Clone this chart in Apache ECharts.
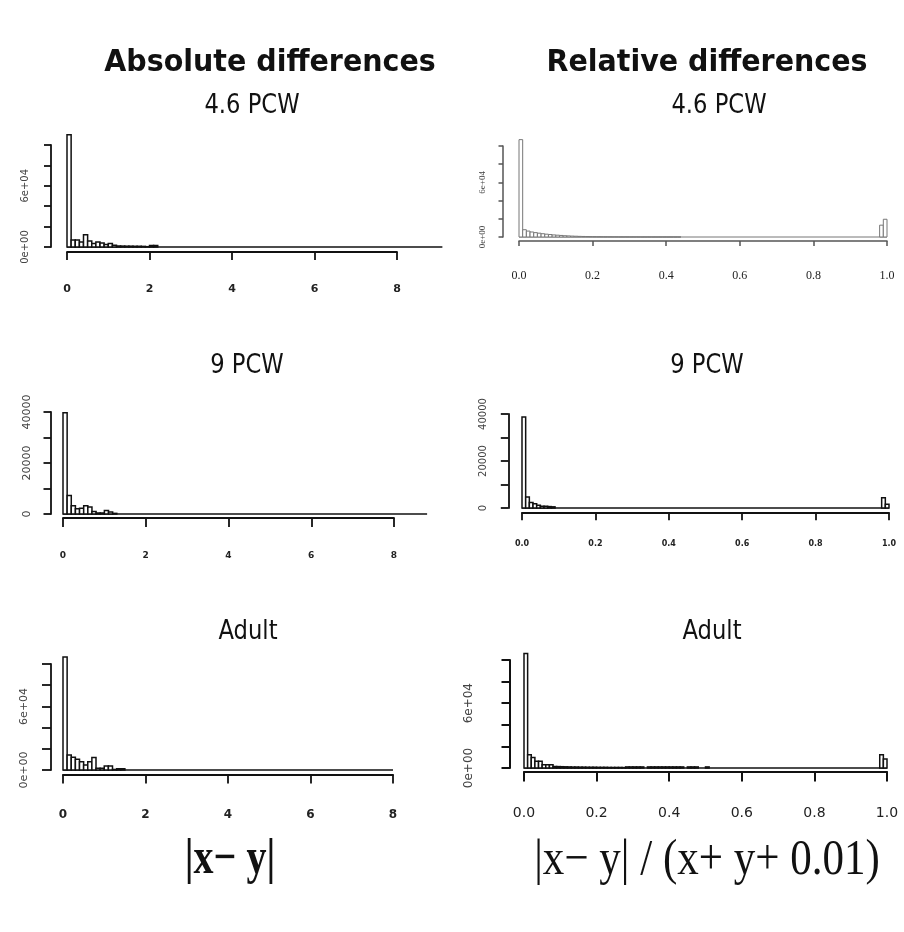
<!DOCTYPE html>
<html><head><meta charset="utf-8">
<script src="https://cdn.jsdelivr.net/npm/echarts@6/dist/echarts.min.js"></script>
<style>html,body{margin:0;padding:0;background:#fff}#c{width:904px;height:932px}</style>
</head><body><div id="c"></div>
<script>
// ---------- data (histogram counts) ----------
const absBinWidth = 0.1;    // |x-y| bins
const relBinWidth = 0.01;   // relative difference bins

// Absolute differences, 4.6 PCW : bins 0.0-9.1
const abs46 = [
 110000,6800,6800,5000,12000,5800,3400,5000,4000,2400,
 3400,1700,1000,900,800,800,700,700,600,300,
 1500,1500,0,0,0,0,0,0,0,0,
 0,0,0,0,0,0,0,0,0,0,
 0,0,0,0,0,0,0,0,0,0,
 0,0,0,0,0,0,0,0,0,0,
 0,0,0,0,0,0,0,0,0,0,
 0,0,0,0,0,0,0,0,0,0,
 0,0,0,0,0,0,0,0,0,0,
 0
];
// Absolute differences, 9 PCW : bins 0.0-8.8
const abs9 = [
 39700,7300,3250,2100,2300,3250,2700,1000,400,400,
 1400,800,250,0,0,0,0,0,0,0,
 0,0,0,0,0,0,0,0,0,0,
 0,0,0,0,0,0,0,0,0,0,
 0,0,0,0,0,0,0,0,0,0,
 0,0,0,0,0,0,0,0,0,0,
 0,0,0,0,0,0,0,0,0,0,
 0,0,0,0,0,0,0,0,0,0,
 0,0,0,0,0,0,0,0
];
// Absolute differences, Adult : bins 0.0-8.0
const absAdult = [
 106600,14200,12000,10100,7900,4700,7900,11700,1600,1600,
 3800,3800,500,1200,1200,0,0,0,0,0,
 0,0,0,0,0,0,0,0,0,0,
 0,0,0,0,0,0,0,0,0,0,
 0,0,0,0,0,0,0,0,0,0,
 0,0,0,0,0,0,0,0,0,0,
 0,0,0,0,0,0,0,0,0,0,
 0,0,0,0,0,0,0,0,0,0
];
// Relative differences, 4.6 PCW : bins 0.00-1.00
const rel46 = [
 107000,8000,6500,5500,4800,4200,3600,3100,2700,2300,
 2000,1700,1400,1200,1000,850,700,600,500,420,
 350,300,260,220,190,160,140,120,100,90,
 80,70,60,50,40,40,30,30,20,20,
 10,10,10,10,0,0,0,0,0,0,
 0,0,0,0,0,0,0,0,0,0,
 0,0,0,0,0,0,0,0,0,0,
 0,0,0,0,0,0,0,0,0,0,
 0,0,0,0,0,0,0,0,0,0,
 0,0,0,0,0,0,0,0,13000,19500
];
// Relative differences, 9 PCW
const rel9 = [
 38700,4700,2300,1860,1140,700,700,600,500,0,
 0,0,0,0,0,0,0,0,0,0,
 0,0,0,0,0,0,0,0,0,0,
 0,0,0,0,0,0,0,0,0,0,
 0,0,0,0,0,0,0,0,0,0,
 0,0,0,0,0,0,0,0,0,0,
 0,0,0,0,0,0,0,0,0,0,
 0,0,0,0,0,0,0,0,0,0,
 0,0,0,0,0,0,0,0,0,0,
 0,0,0,0,0,0,0,0,4400,1570
];
// Relative differences, Adult
const relAdult = [
 106000,12300,9800,6200,6200,3100,3100,3100,1500,1300,
 1200,1100,1000,900,900,800,800,700,700,700,
 600,600,600,500,500,500,500,400,1000,1000,
 1000,1000,1000,0,1000,1000,1000,1000,1000,1000,
 1000,1000,1000,1000,0,1000,1000,1000,0,0,
 1000,0,0,0,0,0,0,0,0,0,
 0,0,0,0,0,0,0,0,0,0,
 0,0,0,0,0,0,0,0,0,0,
 0,0,0,0,0,0,0,0,0,0,
 0,0,0,0,0,0,0,0,12300,8300
];

// tick labels
const absTickLabels = ['0','2','4','6','8'];
const relTickLabels = ['0.0','0.2','0.4','0.6','0.8','1.0'];
const sciTickValues = [0, 60000];
const sciTickLabels = ['0e+00','6e+04'];
const cntTickValues = [0, 20000, 40000];
const cntTickLabels = ['0','20000','40000'];

// texts
const mainTitles = ['Absolute differences','Relative differences'];
const subTitles = ['4.6 PCW','9 PCW','Adult'];
const xTitles = ['|x\u2212 y|','|x\u2212 y| / (x+ y+ 0.01)'];

// ---------- layout ----------
const SANS = '"DejaVu Sans", Verdana, sans-serif';
const SERIF = '"Liberation Serif", "Times New Roman", serif';

const panels = [
 {counts:abs46, bw:absBinWidth, left:67, top:145, width:330, height:102, xMax:8, xInt:2, xLabels:absTickLabels,
  yMax:100000, yInt:20000, yv:sciTickValues, yl:sciTickLabels, yOff:16, xOff:5, xTick:8, yTick:7,
  xFont:{size:11, weight:'bold', family:SANS, margin:32}, yFont:{size:10, family:SANS, margin:21},
  stroke:'#111', lw:1.5, axis:'#111', alw:1.8},
 {counts:rel46, bw:relBinWidth, left:519, top:146, width:368, height:91, xMax:1, xInt:0.2, xLabels:relTickLabels,
  yMax:100000, yInt:20000, yv:sciTickValues, yl:sciTickLabels, yOff:16, xOff:4, xTick:5, yTick:4.5,
  xFont:{size:12, weight:'normal', family:SERIF, margin:29}, yFont:{size:9, family:SERIF, margin:16},
  stroke:'#777', lw:1, axis:'#555', alw:1.5},
 {counts:abs9, bw:absBinWidth, left:63, top:412, width:331, height:102, xMax:8, xInt:2, xLabels:absTickLabels,
  yMax:40000, yInt:10000, yv:cntTickValues, yl:cntTickLabels, yOff:12, xOff:4, xTick:9, yTick:7.5,
  xFont:{size:9, weight:'bold', family:SANS, margin:33}, yFont:{size:11, family:SANS, margin:18.5},
  stroke:'#111', lw:1.5, axis:'#111', alw:1.8},
 {counts:rel9, bw:relBinWidth, left:522, top:414, width:367, height:94, xMax:1, xInt:0.2, xLabels:relTickLabels,
  yMax:40000, yInt:10000, yv:cntTickValues, yl:cntTickLabels, yOff:13.5, xOff:4.5, xTick:7.7, yTick:7.7,
  xFont:{size:8, weight:'bold', family:SANS, margin:27.5}, yFont:{size:10, family:SANS, margin:20},
  stroke:'#111', lw:1.5, axis:'#111', alw:1.8},
 {counts:absAdult, bw:absBinWidth, left:63, top:664, width:330, height:106, xMax:8, xInt:2, xLabels:absTickLabels,
  yMax:100000, yInt:20000, yv:sciTickValues, yl:sciTickLabels, yOff:12, xOff:4.5, xTick:9, yTick:9,
  xFont:{size:12, weight:'bold', family:SANS, margin:34.5}, yFont:{size:11, family:SANS, margin:21.5},
  stroke:'#111', lw:1.5, axis:'#111', alw:1.8},
 {counts:relAdult, bw:relBinWidth, left:524, top:660, width:363, height:108, xMax:1, xInt:0.2, xLabels:relTickLabels,
  yMax:100000, yInt:20000, yv:sciTickValues, yl:sciTickLabels, yOff:14, xOff:3.5, xTick:10, yTick:8.5,
  xFont:{size:14, weight:'normal', family:SANS, margin:34.5}, yFont:{size:12, family:SANS, margin:35},
  stroke:'#111', lw:1.5, axis:'#111', alw:2}
];

const grids = [], xAxes = [], yAxes = [], series = [];
panels.forEach((p, i) => {
  grids.push({left:p.left, top:p.top, width:p.width, height:p.height, outerBoundsMode:'none', containLabel:false});
  xAxes.push({
    gridIndex:i, type:'value', min:0, max:p.xMax, interval:p.xInt, position:'bottom', offset:p.xOff,
    axisLine:{show:true, onZero:false, lineStyle:{color:p.axis, width:p.alw}},
    axisTick:{show:true, inside:false, length:p.xTick, lineStyle:{color:p.axis, width:p.alw}},
    splitLine:{show:false}, minorTick:{show:false},
    axisLabel:{show:true, margin:p.xFont.margin, fontSize:p.xFont.size, fontWeight:p.xFont.weight,
      fontFamily:p.xFont.family, color:'#222', showMinLabel:true, showMaxLabel:true, hideOverlap:false,
      formatter:(v, idx) => p.xLabels[idx] !== undefined ? p.xLabels[idx] : ''}
  });
  yAxes.push({
    gridIndex:i, type:'value', min:0, max:p.yMax, interval:p.yInt, position:'left', offset:p.yOff,
    axisLine:{show:true, onZero:false, lineStyle:{color:p.axis, width:p.alw}},
    axisTick:{show:true, inside:false, length:p.yTick, lineStyle:{color:p.axis, width:p.alw}},
    splitLine:{show:false}, minorTick:{show:false},
    axisLabel:{show:true, rotate:90, margin:p.yFont.margin, fontSize:p.yFont.size, fontFamily:p.yFont.family,
      color:'#444', showMinLabel:true, showMaxLabel:true, hideOverlap:false,
      formatter:(v) => { const k = p.yv.indexOf(v); return k >= 0 ? p.yl[k] : ''; }}
  });
  // baseline through all histogram breaks (zero-height bins)
  series.push({
    type:'custom', xAxisIndex:i, yAxisIndex:i, coordinateSystem:'cartesian2d', clip:false, silent:true, z:1,
    encode:{x:[0,1]}, data:[[0, p.counts.length * p.bw]],
    renderItem:(params, api) => {
      const a = api.coord([api.value(0), 0]);
      const b = api.coord([api.value(1), 0]);
      return {type:'line', shape:{x1:a[0], y1:a[1], x2:b[0], y2:b[1]},
              style:{stroke:p.stroke, lineWidth:p.lw}};
    }
  });
  const data = p.counts.map((c, k) => [k * p.bw, (k + 1) * p.bw, c]);
  series.push({
    type:'custom', xAxisIndex:i, yAxisIndex:i, coordinateSystem:'cartesian2d', clip:false, silent:true, z:2,
    encode:{x:[0,1], y:2}, data:data,
    renderItem:(params, api) => {
      if (api.value(2) === 0) return null;
      const a = api.coord([api.value(0), api.value(2)]);
      const b = api.coord([api.value(1), 0]);
      return {type:'rect', shape:{x:a[0], y:a[1], width:b[0]-a[0], height:b[1]-a[1]},
              style:{fill:'#fff', stroke:p.stroke, lineWidth:p.lw}};
    }
  });
});

function txt(x, y, text, font, sx, sy) {
  return {type:'text', x:x, y:y, scaleX:sx, scaleY:sy || 1, silent:true,
    style:{text:text, font:font, fill:'#111', align:'center', verticalAlign:'middle',
           textAlign:'center', textVerticalAlign:'middle'}};
}
const graphics = [
  txt(270, 63, mainTitles[0], 'bold 30px ' + SANS, 0.95),
  txt(707, 63, mainTitles[1], 'bold 30px ' + SANS, 0.95),
  txt(252, 106, subTitles[0], '27px ' + SANS, 0.84),
  txt(719, 106, subTitles[0], '27px ' + SANS, 0.84),
  txt(247, 366, subTitles[1], '27px ' + SANS, 0.84),
  txt(707, 366, subTitles[1], '27px ' + SANS, 0.84),
  txt(248, 632, subTitles[2], '27px ' + SANS, 0.84),
  txt(712, 632, subTitles[2], '27px ' + SANS, 0.84),
  txt(230, 860, xTitles[0], 'bold 50px ' + SERIF, 0.8),
  txt(707, 861, xTitles[1], '50px ' + SERIF, 0.86)
];

const chart = echarts.init(document.getElementById('c'), null, {renderer:'canvas'});
chart.setOption({
  backgroundColor:'#fff', animation:false,
  grid:grids, xAxis:xAxes, yAxis:yAxes, series:series, graphic:graphics
});
</script>
</body></html>
